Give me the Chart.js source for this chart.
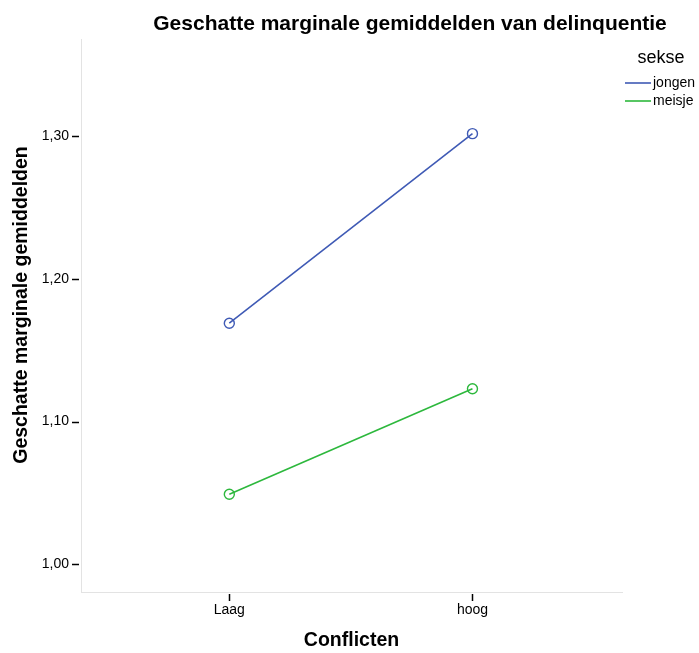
<!DOCTYPE html>
<html>
<head>
<meta charset="utf-8">
<script src="https://cdn.jsdelivr.net/npm/chart.js@4"></script>
<style>
  html, body { margin: 0; padding: 0; background: #fff; }
  #wrap { width: 699px; height: 653px; position: relative; }
</style>
</head>
<body>
<div id="wrap"><canvas id="emmChart"></canvas></div>
<script>
// categories on the x axis (Conflicten)
const categories = ['Laag', 'hoog'];
// estimated marginal means per sex
const jongen = [1.169, 1.302];
const meisje = [1.049, 1.123];
const seriesNames = ['jongen', 'meisje'];
// y tick labels as they appear (Dutch decimal comma)
const yTickValues = [1.00, 1.10, 1.20, 1.30];
const yTickLabels = ['1,00', '1,10', '1,20', '1,30'];

const chartTitle = 'Geschatte marginale gemiddelden van delinquentie';
const yTitle = 'Geschatte marginale gemiddelden';
const xTitle = 'Conflicten';
const legendTitle = 'sekse';

const FONT = '"Liberation Sans", Arial, sans-serif';

// titles and legend drawn like the SPSS output
const decorations = {
    id: 'decorations',
    afterDraw(chart) {
        const ctx = chart.ctx;
        const area = chart.chartArea;
        ctx.save();
        ctx.fillStyle = '#000';

        ctx.font = 'bold 21px ' + FONT;
        ctx.textAlign = 'center';
        ctx.textBaseline = 'middle';
        ctx.fillText(chartTitle, 410, 24);

        ctx.font = 'bold 19.5px ' + FONT;
        ctx.fillText(xTitle, (area.left + area.right) / 2, 641);

        ctx.save();
        ctx.translate(22, 305);
        ctx.rotate(-Math.PI / 2);
        ctx.fillText(yTitle, 0, 0);
        ctx.restore();

        // legend
        ctx.font = '18px ' + FONT;
        ctx.fillText(legendTitle, 661, 58);
        ctx.font = '14px ' + FONT;
        ctx.textAlign = 'left';
        chart.data.datasets.forEach(function (ds, i) {
            const y = 83 + i * 18;
            ctx.strokeStyle = ds.borderColor;
            ctx.lineWidth = 1.6;
            ctx.beginPath();
            ctx.moveTo(625, y);
            ctx.lineTo(651, y);
            ctx.stroke();
            ctx.fillText(ds.label, 653, y);
        });
        ctx.restore();
    }
};

// short black tick marks outside the light grey axis lines
const tickMarks = {
    id: 'tickMarks',
    afterDatasetsDraw(chart) {
        const ctx = chart.ctx;
        const xs = chart.scales.x;
        const ys = chart.scales.y;
        ctx.save();
        ctx.strokeStyle = '#000';
        ctx.lineWidth = 1.5;
        yTickValues.forEach(function (v) {
            const py = Math.round(ys.getPixelForValue(v)) + 0.5;
            ctx.beginPath();
            ctx.moveTo(72, py);
            ctx.lineTo(79, py);
            ctx.stroke();
        });
        categories.forEach(function (c, i) {
            const px = Math.round(xs.getPixelForValue(i)) + 0.5;
            ctx.beginPath();
            ctx.moveTo(px, chart.chartArea.bottom + 2);
            ctx.lineTo(px, chart.chartArea.bottom + 9);
            ctx.stroke();
        });
        ctx.restore();
    }
};

const ctx = document.getElementById('emmChart').getContext('2d');
new Chart(ctx, {
    type: 'line',
    data: {
        datasets: [
            {
                label: seriesNames[0],
                data: jongen.map(function (v, i) { return { x: i, y: v }; }),
                borderColor: '#3f5ab5',
                backgroundColor: 'rgba(0,0,0,0)',
                borderWidth: 1.6,
                pointRadius: 5,
                pointBorderWidth: 1.4,
                pointBackgroundColor: 'rgba(0,0,0,0)',
                pointBorderColor: '#3f5ab5',
                tension: 0
            },
            {
                label: seriesNames[1],
                data: meisje.map(function (v, i) { return { x: i, y: v }; }),
                borderColor: '#2db83d',
                backgroundColor: 'rgba(0,0,0,0)',
                borderWidth: 1.6,
                pointRadius: 5,
                pointBorderWidth: 1.4,
                pointBackgroundColor: 'rgba(0,0,0,0)',
                pointBorderColor: '#2db83d',
                tension: 0
            }
        ]
    },
    options: {
        responsive: true,
        maintainAspectRatio: false,
        animation: false,
        layout: { padding: { left: 0, right: 77, top: 39, bottom: 0 } },
        plugins: {
            legend: { display: false },
            title: { display: false },
            tooltip: { enabled: false }
        },
        scales: {
            x: {
                type: 'linear',
                min: -0.61,
                max: 1.615,
                afterFit: function (scale) { scale.height = 61; },
                afterBuildTicks: function (scale) {
                    scale.ticks = categories.map(function (c, i) { return { value: i }; });
                },
                grid: { display: false, drawTicks: false },
                border: { display: true, color: '#e3e3e3', width: 1 },
                ticks: {
                    padding: 10,
                    color: '#000',
                    font: { family: FONT, size: 14 },
                    maxRotation: 0,
                    callback: function (v) { return categories[v]; }
                }
            },
            y: {
                min: 0.9804,
                max: 1.3684,
                afterFit: function (scale) { scale.width = 81; },
                afterBuildTicks: function (scale) {
                    scale.ticks = yTickValues.map(function (v) { return { value: v }; });
                },
                grid: { display: false, drawTicks: false },
                border: { display: true, color: '#e3e3e3', width: 1 },
                ticks: {
                    padding: 12,
                    color: '#000',
                    font: { family: FONT, size: 14 },
                    callback: function (v) {
                        const i = yTickValues.findIndex(function (t) { return Math.abs(t - v) < 1e-6; });
                        return i >= 0 ? yTickLabels[i] : '';
                    }
                }
            }
        }
    },
    plugins: [tickMarks, decorations]
});
</script>
</body>
</html>
